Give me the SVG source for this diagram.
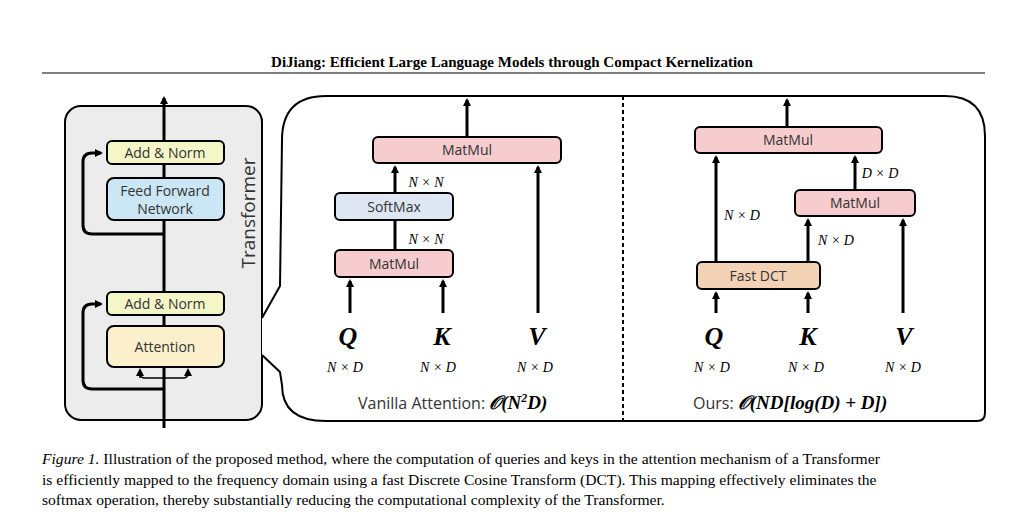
<svg xmlns="http://www.w3.org/2000/svg" width="1024" height="527" viewBox="0 0 1024 527">
<defs>
<marker id="ah" markerWidth="8" markerHeight="8" refX="6" refY="4" orient="auto" markerUnits="userSpaceOnUse"><path d="M0,0 L8,4 L0,8 z" fill="#000"/></marker>
<style>
.box{stroke:#000;stroke-width:2}
.t{font-family:"Open Sans","DejaVu Sans",sans-serif;font-size:14px;fill:#333;text-anchor:middle}
.m{font-family:"Liberation Serif",serif;font-style:italic;font-size:14px;text-anchor:middle}
.qkv{font-family:"Liberation Serif",serif;font-style:italic;font-weight:bold;font-size:26px;text-anchor:middle}
.c{stroke:#000;stroke-width:3;fill:none}
.cap{font-family:"Liberation Serif",serif;font-size:15.6px}
</style>
</defs>
<rect width="1024" height="527" fill="#fff"/>
<text x="512" y="67" text-anchor="middle" style="font-family:'Liberation Serif',serif;font-weight:bold;font-size:15px">DiJiang: Efficient Large Language Models through Compact Kernelization</text>
<line x1="42" y1="73" x2="985" y2="73" stroke="#000" stroke-width="1.2"/>
<rect x="65" y="106" width="197" height="314" rx="16" fill="#ececec" stroke="#000" stroke-width="2"/>
<text class="t" transform="translate(255,213) rotate(-90)" style="font-size:19px">Transformer</text>
<path d="M262,318 L280,286 L282,140 Q282,96 326,96 L945,96 Q985,96 985,136 L985,413 Q985,421 977,421 L326,421 Q282,421 282,385 L280,372 L262,355" fill="#fff" stroke="#000" stroke-width="2"/>
<line x1="623" y1="96" x2="623" y2="421" stroke="#000" stroke-width="2" stroke-dasharray="4,3"/>
<g id="connectors">
<line class="c" x1="164" y1="428" x2="164" y2="98" marker-end="url(#ah)"/>
<path class="c" d="M164,234 L92,234 Q83,234 83,225 L83,162 Q83,153 92,153 L101,153" marker-end="url(#ah)"/>
<path class="c" d="M164,389 L92,389 Q83,389 83,380 L83,313 Q83,304 92,304 L101,304" marker-end="url(#ah)"/>
<path d="M164,378 L145,378 Q140,378 140,373 L140,370 M164,378 L183,378 Q188,378 188,373 L188,370" stroke="#000" stroke-width="1.5" fill="none" marker-end="url(#ah)"/>
<path d="M140,378 L140,370" stroke="#000" stroke-width="1.5" marker-end="url(#ah)"/>
<line class="c" x1="467" y1="137" x2="467" y2="100" marker-end="url(#ah)"/>
<line class="c" x1="395" y1="193" x2="395" y2="167" marker-end="url(#ah)"/>
<line class="c" x1="395" y1="250" x2="395" y2="220"/>
<line class="c" x1="350" y1="313" x2="350" y2="281" marker-end="url(#ah)"/>
<line class="c" x1="443" y1="313" x2="443" y2="281" marker-end="url(#ah)"/>
<line class="c" x1="538" y1="313" x2="538" y2="167" marker-end="url(#ah)"/>
<line class="c" x1="787" y1="127" x2="787" y2="100" marker-end="url(#ah)"/>
<line class="c" x1="716" y1="313" x2="716" y2="293" marker-end="url(#ah)"/>
<line class="c" x1="808" y1="313" x2="808" y2="293" marker-end="url(#ah)"/>
<line class="c" x1="716" y1="262" x2="716" y2="157" marker-end="url(#ah)"/>
<line class="c" x1="808" y1="262" x2="808" y2="220" marker-end="url(#ah)"/>
<line class="c" x1="903" y1="313" x2="903" y2="220" marker-end="url(#ah)"/>
<line class="c" x1="855" y1="190" x2="855" y2="157" marker-end="url(#ah)"/>
</g>
<g id="addnorm1"><rect class="box" x="107" y="141" width="117" height="23" rx="5" fill="#f4f6c8"/><text class="t" x="165" y="158">Add &amp; Norm</text></g>
<g id="ffn"><rect class="box" x="107" y="178" width="117" height="42" rx="7" fill="#cbe6f4"/><text class="t" x="165" y="196">Feed Forward</text><text class="t" x="165" y="214">Network</text></g>
<g id="addnorm2"><rect class="box" x="107" y="292" width="117" height="23" rx="5" fill="#f4f6c8"/><text class="t" x="165" y="309">Add &amp; Norm</text></g>
<g id="attention"><rect class="box" x="107" y="326" width="117" height="41" rx="7" fill="#fcf0cc"/><text class="t" x="165" y="352">Attention</text></g>
<g id="v-matmul-top"><rect class="box" x="373" y="137" width="188" height="26" rx="5" fill="#f6cccf"/><text class="t" x="467" y="155">MatMul</text></g>
<g id="v-softmax"><rect class="box" x="335" y="193" width="118" height="27" rx="5" fill="#dde6f2"/><text class="t" x="394" y="212">SoftMax</text></g>
<g id="v-matmul"><rect class="box" x="335" y="250" width="118" height="27" rx="5" fill="#f6cccf"/><text class="t" x="394" y="269">MatMul</text></g>
<text class="m" x="426" y="187">N × N</text>
<text class="m" x="426" y="244">N × N</text>
<g id="v-q"><text class="qkv" x="348" y="345">Q</text><text class="m" x="345" y="372">N × D</text></g>
<g id="v-k"><text class="qkv" x="442" y="345">K</text><text class="m" x="438" y="372">N × D</text></g>
<g id="v-v"><text class="qkv" x="537" y="345">V</text><text class="m" x="535" y="372">N × D</text></g>
<text x="358" y="409" style="font-family:'Open Sans',sans-serif;font-size:16px;fill:#333">Vanilla Attention:  <tspan style="font-family:'Liberation Serif',serif;font-weight:bold;font-style:italic;font-size:19px;fill:#000">𝒪(N<tspan dy="-7" font-size="12">2</tspan><tspan dy="7">D)</tspan></tspan></text>
<g id="o-matmul-top"><rect class="box" x="695" y="127" width="187" height="26" rx="5" fill="#f6cccf"/><text class="t" x="788" y="145">MatMul</text></g>
<g id="o-matmul"><rect class="box" x="795" y="190" width="120" height="26" rx="5" fill="#f6cccf"/><text class="t" x="855" y="208">MatMul</text></g>
<g id="o-dct"><rect class="box" x="697" y="262" width="123" height="27" rx="5" fill="#f3d2b5"/><text class="t" x="758" y="281">Fast DCT</text></g>
<text class="m" x="742" y="220">N × D</text>
<text class="m" x="836" y="245">N × D</text>
<text class="m" x="880" y="178">D × D</text>
<g id="o-q"><text class="qkv" x="714" y="345">Q</text><text class="m" x="712" y="372">N × D</text></g>
<g id="o-k"><text class="qkv" x="808" y="345">K</text><text class="m" x="806" y="372">N × D</text></g>
<g id="o-v"><text class="qkv" x="904" y="345">V</text><text class="m" x="903" y="372">N × D</text></g>
<text x="693" y="409" style="font-family:'Open Sans',sans-serif;font-size:16px;fill:#333">Ours: <tspan style="font-family:'Liberation Serif',serif;font-weight:bold;font-style:italic;font-size:19px;fill:#000">𝒪(ND[log(D) + D])</tspan></text>
<text class="cap" x="42" y="464"><tspan font-style="italic">Figure 1.</tspan> Illustration of the proposed method, where the computation of queries and keys in the attention mechanism of a Transformer</text>
<text class="cap" x="42" y="485">is efficiently mapped to the frequency domain using a fast Discrete Cosine Transform (DCT). This mapping effectively eliminates the</text>
<text class="cap" x="42" y="505">softmax operation, thereby substantially reducing the computational complexity of the Transformer.</text>
</svg>
